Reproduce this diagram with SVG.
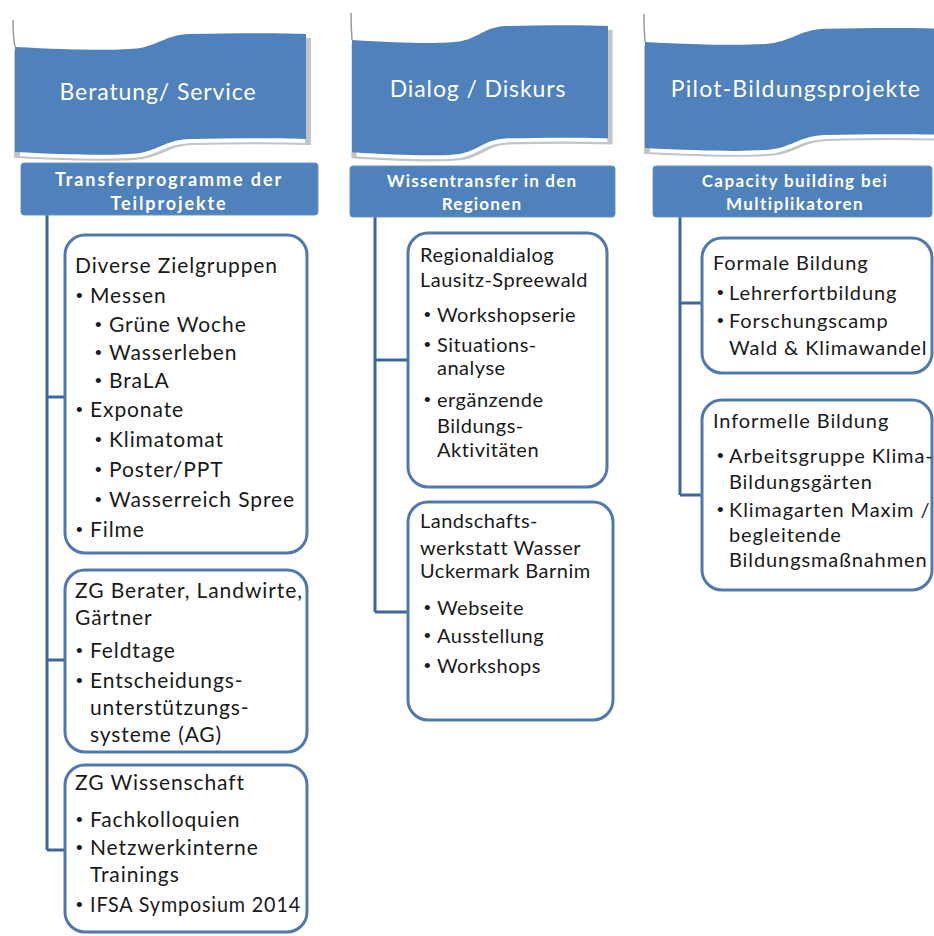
<svg xmlns="http://www.w3.org/2000/svg" xmlns:xlink="http://www.w3.org/1999/xlink" width="934" height="936" viewBox="0 0 934 936">
<style>
.ban{fill:#4f81bd}
.banedge{fill:none;stroke:#c4c4c4;stroke-width:2}
.pole{fill:none;stroke:#9a9a9a;stroke-width:1.5}
.title{font-family:Lato,"Liberation Sans",sans-serif;font-size:23px;fill:#fff;text-anchor:middle;letter-spacing:0.9px}
.hdr{fill:#4f81bd;stroke:#6a93c6;stroke-width:1}
.htxt{font-family:Lato,"Liberation Sans",sans-serif;font-weight:bold;font-size:17px;fill:#fff;text-anchor:middle;letter-spacing:1.2px}
.box{fill:#fff;stroke:#5079ae;stroke-width:3}
.t{font-family:Lato,"Liberation Sans",sans-serif;font-size:21px;fill:#1a1a1a;letter-spacing:0.9px}
.t2{font-family:Lato,"Liberation Sans",sans-serif;font-size:20px;fill:#1a1a1a;letter-spacing:0.5px}
.t3{font-family:Lato,"Liberation Sans",sans-serif;font-size:20px;fill:#1a1a1a;letter-spacing:0.9px}
.b{font-family:"Liberation Sans",sans-serif;font-size:19px;fill:#1a1a1a}
.con{fill:none;stroke:#3d6799;stroke-width:3}
</style>
<defs>
<path id="wave" d="M0,0 C20,3 36,4 43,1 C50,-3 52,-12 60,-13 C75,-14 90,-14 100,-13 L100,92 C90,91 75,91 60,92 C52,93 50,102 43,106 C36,109 20,108 0,105 Z"/>
</defs>

<g id="connectors">
<path class="con" d="M47,215 V850 M47,397 H65 M47,660 H65 M47,850 H65"/>
<path class="con" d="M375,217 V612 M375,360 H408 M375,612 H408"/>
<path class="con" d="M680,217 V495 M680,303 H702 M680,495 H702"/>
</g>

<g id="banner1">
<use xlink:href="#wave" class="banedge" vector-effect="non-scaling-stroke" transform="translate(17,52) scale(2.91,1)"/>
<path class="pole" d="M13,20 Q13,36 15,47"/>
<use xlink:href="#wave" class="ban" transform="translate(15,47) scale(2.91,1)"/>
<text class="title" x="158" y="100">Beratung/ Service</text>
</g>
<g id="banner2">
<use xlink:href="#wave" class="banedge" vector-effect="non-scaling-stroke" transform="translate(354,45) scale(2.56,1.07)"/>
<path class="pole" d="M351,13 Q351,28 352,40"/>
<use xlink:href="#wave" class="ban" transform="translate(352,40) scale(2.56,1.07)"/>
<text class="title" x="478" y="97">Dialog / Diskurs</text>
</g>
<g id="banner3">
<use xlink:href="#wave" class="banedge" vector-effect="non-scaling-stroke" transform="translate(647,47) scale(3.0,1.01)"/>
<path class="pole" d="M644,14 Q644,30 645,42"/>
<use xlink:href="#wave" class="ban" transform="translate(645,42) scale(3.0,1.01)"/>
<text class="title" x="796" y="97" style="letter-spacing:1.2px">Pilot-Bildungsprojekte</text>
</g>

<g id="header1">
<rect class="hdr" x="21" y="163" width="297" height="52" rx="3"/>
<text class="htxt" x="169" y="186" style="font-size:18px;letter-spacing:1.9px">Transferprogramme der</text>
<text class="htxt" x="169" y="210" style="font-size:18px;letter-spacing:1.9px">Teilprojekte</text>
</g>
<g id="header2">
<rect class="hdr" x="350" y="166" width="265" height="51" rx="3"/>
<text class="htxt" x="482" y="187">Wissentransfer in den</text>
<text class="htxt" x="482" y="210">Regionen</text>
</g>
<g id="header3">
<rect class="hdr" x="653" y="166" width="279" height="51" rx="3"/>
<text class="htxt" x="795" y="187" style="letter-spacing:1.4px">Capacity building bei</text>
<text class="htxt" x="795" y="210" style="letter-spacing:1.4px">Multiplikatoren</text>
</g>

<g id="box-zielgruppen">
<rect class="box" x="65" y="235" width="242" height="318" rx="20"/>
<text class="t" x="75" y="273">Diverse Zielgruppen</text>
<text class="b" x="76" y="302">•</text><text class="t" x="90" y="303">Messen</text>
<text class="b" x="95" y="331">•</text><text class="t" x="109" y="332">Grüne Woche</text>
<text class="b" x="95" y="359">•</text><text class="t" x="109" y="360">Wasserleben</text>
<text class="b" x="95" y="387">•</text><text class="t" x="109" y="388">BraLA</text>
<text class="b" x="76" y="416">•</text><text class="t" x="90" y="417">Exponate</text>
<text class="b" x="95" y="446">•</text><text class="t" x="109" y="447">Klimatomat</text>
<text class="b" x="95" y="476">•</text><text class="t" x="109" y="477">Poster/PPT</text>
<text class="b" x="95" y="506">•</text><text class="t" x="109" y="507">Wasserreich Spree</text>
<text class="b" x="76" y="536">•</text><text class="t" x="90" y="537">Filme</text>
</g>

<g id="box-berater">
<rect class="box" x="65" y="570" width="242" height="182" rx="20"/>
<text class="t" x="75" y="598">ZG Berater, Landwirte,</text>
<text class="t" x="75" y="625">Gärtner</text>
<text class="b" x="76" y="657">•</text><text class="t" x="90" y="658">Feldtage</text>
<text class="b" x="76" y="687">•</text><text class="t" x="90" y="688">Entscheidungs-</text>
<text class="t" x="90" y="715">unterstützungs-</text>
<text class="t" x="90" y="742">systeme (AG)</text>
</g>

<g id="box-wissenschaft">
<rect class="box" x="65" y="765" width="242" height="167" rx="20"/>
<text class="t" x="75" y="790">ZG Wissenschaft</text>
<text class="b" x="76" y="826">•</text><text class="t" x="90" y="827">Fachkolloquien</text>
<text class="b" x="76" y="854">•</text><text class="t" x="90" y="855">Netzwerkinterne</text>
<text class="t" x="90" y="882">Trainings</text>
<text class="b" x="76" y="911">•</text><text class="t" x="90" y="912" textLength="211" lengthAdjust="spacingAndGlyphs">IFSA Symposium 2014</text>
</g>

<g id="box-regionaldialog">
<rect class="box" x="408" y="233" width="199" height="254" rx="20"/>
<text class="t2" x="420" y="262">Regionaldialog</text>
<text class="t2" x="420" y="287">Lausitz-Spreewald</text>
<text class="b" x="424" y="321">•</text><text class="t2" x="437" y="322">Workshopserie</text>
<text class="b" x="424" y="351">•</text><text class="t2" x="437" y="352">Situations-</text>
<text class="t2" x="437" y="375">analyse</text>
<text class="b" x="424" y="406">•</text><text class="t2" x="437" y="407">ergänzende</text>
<text class="t2" x="437" y="433">Bildungs-</text>
<text class="t2" x="437" y="457">Aktivitäten</text>
</g>

<g id="box-landschaftswerkstatt">
<rect class="box" x="408" y="502" width="205" height="218" rx="20"/>
<text class="t2" x="420" y="528">Landschafts-</text>
<text class="t2" x="420" y="555">werkstatt Wasser</text>
<text class="t2" x="420" y="578">Uckermark Barnim</text>
<text class="b" x="424" y="614">•</text><text class="t2" x="437" y="615">Webseite</text>
<text class="b" x="424" y="642">•</text><text class="t2" x="437" y="643">Ausstellung</text>
<text class="b" x="424" y="672">•</text><text class="t2" x="437" y="673">Workshops</text>
</g>

<g id="box-formal">
<rect class="box" x="702" y="238" width="230" height="135" rx="20"/>
<text class="t3" x="713" y="270">Formale Bildung</text>
<text class="b" x="717" y="299">•</text><text class="t3" x="729" y="300">Lehrerfortbildung</text>
<text class="b" x="717" y="327">•</text><text class="t3" x="729" y="328">Forschungscamp</text>
<text class="t3" x="729" y="355">Wald &amp; Klimawandel</text>
</g>

<g id="box-informell">
<rect class="box" x="702" y="400" width="230" height="190" rx="20"/>
<text class="t3" x="713" y="428">Informelle Bildung</text>
<text class="b" x="717" y="462">•</text><text class="t3" x="729" y="463">Arbeitsgruppe Klima-</text>
<text class="t3" x="729" y="489">Bildungsgärten</text>
<text class="b" x="717" y="516">•</text><text class="t3" x="729" y="517">Klimagarten Maxim /</text>
<text class="t3" x="729" y="542">begleitende</text>
<text class="t3" x="729" y="567">Bildungsmaßnahmen</text>
</g>
</svg>
